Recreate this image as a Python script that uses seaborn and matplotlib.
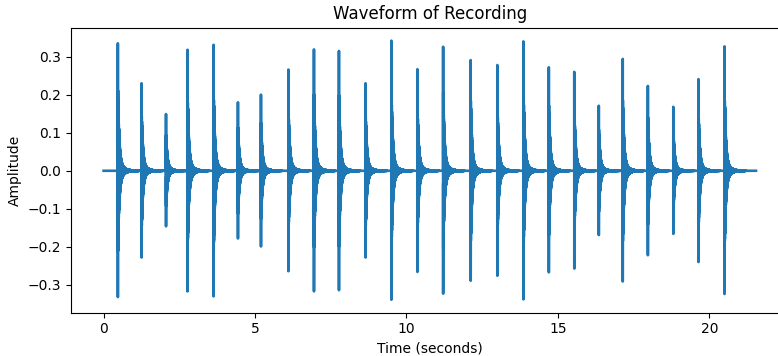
import numpy as np
import pandas as pd
import matplotlib
matplotlib.use("Agg")
import matplotlib.pyplot as plt
import seaborn as sns

# Recording parameters
sample_rate = 4000          # Hz
duration = 21.54            # seconds

# Onset time (s) of each tap and its largest positive / negative excursion
onset_times = [0.47, 1.255, 2.06, 2.77, 3.63, 4.435, 5.195, 6.10, 6.945, 7.77,
               8.65, 9.50, 10.36, 11.21, 12.12, 13.00, 13.86, 14.70, 15.54,
               16.35, 17.14, 17.97, 18.81, 19.64, 20.50]
peak_pos = [0.335, 0.230, 0.149, 0.318, 0.331, 0.180, 0.200, 0.266, 0.319, 0.315,
            0.230, 0.342, 0.267, 0.326, 0.291, 0.278, 0.340, 0.272, 0.260,
            0.171, 0.294, 0.223, 0.168, 0.241, 0.327]
peak_neg = [-0.332, -0.228, -0.146, -0.317, -0.330, -0.178, -0.199, -0.264, -0.317, -0.314,
            -0.228, -0.339, -0.266, -0.323, -0.289, -0.276, -0.338, -0.267, -0.257,
            -0.169, -0.291, -0.222, -0.166, -0.240, -0.324]

# Build the sampled signal: each tap rings as a damped oscillation
n_samples = int(round(duration * sample_rate))
time = np.arange(n_samples) / sample_rate
signal = np.zeros(n_samples)

ring_freq = 700.0           # Hz
ring_len = int(0.7 * sample_rate)
tr = np.arange(ring_len) / sample_rate
osc = np.cos(2 * np.pi * ring_freq * tr)
env = 0.58 * np.exp(-tr / 0.04) + 0.12 * np.exp(-tr / 0.13)
env[tr < 1.0 / ring_freq] = 1.0

for t0, hi, lo in zip(onset_times, peak_pos, peak_neg):
    i0 = int(round(t0 * sample_rate))
    seg = env * osc
    seg = np.where(seg > 0, seg * hi, seg * (-lo))
    # normalise so the extremes equal the stated peaks
    seg = np.where(seg > 0, seg * hi / seg.max(), seg * lo / seg.min())
    i1 = min(i0 + ring_len, n_samples)
    signal[i0:i1] += seg[: i1 - i0]

df = pd.DataFrame({"Time (seconds)": time, "Amplitude": signal})

fig = plt.figure(figsize=(7.78, 3.56), dpi=100)
ax = fig.add_axes([71 / 778, 43.3 / 356, 717.6 / 778, 285 / 356])
sns.lineplot(data=df, x="Time (seconds)", y="Amplitude", ax=ax,
             estimator=None, sort=False, color="#1f77b4", linewidth=1.9)

ax.set_title("Waveform of Recording", fontsize=12)
ax.set_xlabel("Time (seconds)")
ax.set_ylabel("Amplitude")
ax.set_xticks([0, 5, 10, 15, 20])
ax.set_yticks([-0.3, -0.2, -0.1, 0.0, 0.1, 0.2, 0.3])

fig.savefig("out.png", dpi=100)
